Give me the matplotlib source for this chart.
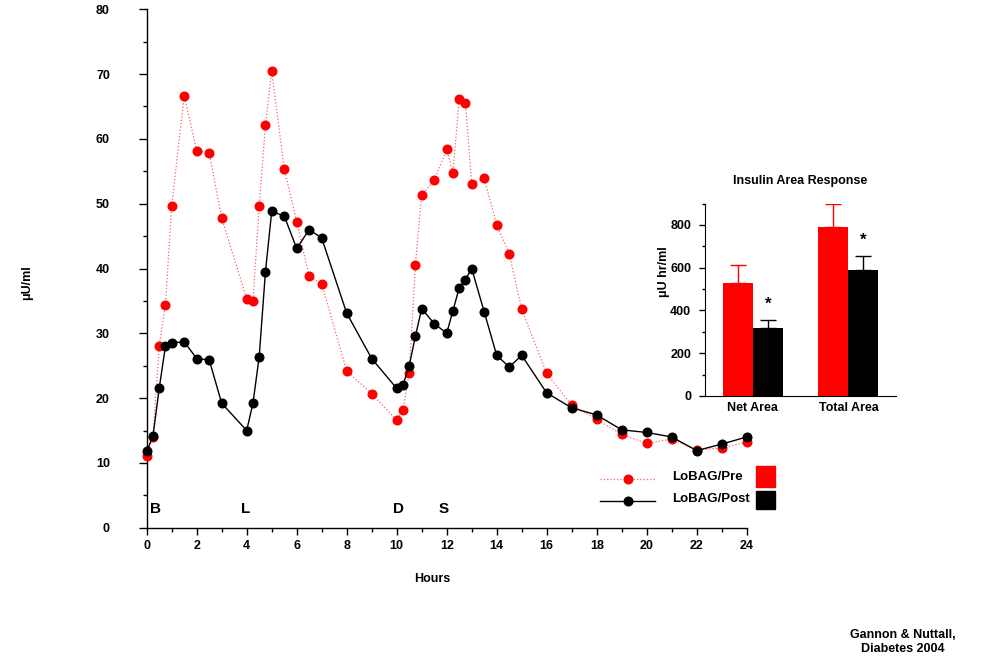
import matplotlib
matplotlib.use("Agg")
import matplotlib.pyplot as plt
from matplotlib.lines import Line2D
from matplotlib.patches import Rectangle
from matplotlib.ticker import MultipleLocator

plt.rcParams['font.family'] = ['Liberation Sans', 'DejaVu Sans']
plt.rcParams['font.weight'] = 'bold'

# ---- data ----
hours = [0, 0.25, 0.5, 0.75, 1, 1.5, 2, 2.5, 3, 4, 4.25, 4.5, 4.75, 5, 5.5, 6, 6.5, 7,
         8, 9, 10, 10.25, 10.5, 10.75, 11, 11.5, 12, 12.25, 12.5, 12.75, 13, 13.5, 14,
         14.5, 15, 16, 17, 18, 19, 20, 21, 22, 23, 24]
pre = [11.0, 14.0, 28.1, 34.4, 49.7, 66.6, 58.2, 57.8, 47.8, 35.3, 35.0, 49.7, 62.1, 70.5,
       55.4, 47.2, 38.8, 37.6, 24.2, 20.7, 16.6, 18.2, 23.9, 40.6, 51.3, 53.6, 58.4, 54.8,
       66.2, 65.5, 53.1, 53.9, 46.7, 42.3, 33.7, 23.8, 18.9, 16.7, 14.4, 13.0, 13.7, 12.0,
       12.3, 13.2]
post = [11.8, 14.1, 21.5, 28.0, 28.5, 28.7, 26.1, 25.9, 19.2, 15.0, 19.2, 26.4, 39.5, 48.8,
        48.1, 43.1, 46.0, 44.7, 33.1, 26.1, 21.5, 22.0, 25.0, 29.6, 33.8, 31.5, 30.0, 33.5,
        37.0, 38.3, 40.0, 33.3, 26.6, 24.8, 26.6, 20.8, 18.5, 17.4, 15.1, 14.7, 14.0, 11.9,
        12.9, 14.0]
meal_labels = ['B', 'L', 'D', 'S']
meal_times = [0.36, 3.97, 10.08, 11.89]

area_categories = ['Net Area', 'Total Area']
area_pre = [528, 790]
area_pre_err = [83, 106]
area_post = [318, 589]
area_post_err = [39, 67]

# ---- figure ----
fig = plt.figure(figsize=(9.93, 6.62), dpi=100)
W, H = 993, 662
MS = 6.2

ax = fig.add_axes([146.7 / W, 1 - 527.7 / H, 600 / W, (527.7 - 9.3) / H])
ax.plot(hours, pre, color='#ff6060', lw=0.9, ls=':', marker='o', ms=MS,
        mfc='red', mec='red', clip_on=False, zorder=3)
ax.plot(hours, post, color='black', lw=1.0, ls='-', marker='o', ms=MS,
        mfc='black', mec='black', clip_on=False, zorder=4)
ax.set_xlim(0, 24)
ax.set_ylim(0, 80)
ax.xaxis.set_major_locator(MultipleLocator(2))
ax.xaxis.set_minor_locator(MultipleLocator(1))
ax.yaxis.set_major_locator(MultipleLocator(10))
ax.yaxis.set_minor_locator(MultipleLocator(5))
for s in ['top', 'right']:
    ax.spines[s].set_visible(False)
for s in ['left', 'bottom']:
    ax.spines[s].set_linewidth(1.0)
ax.tick_params(axis='y', which='major', length=5.5, width=1, pad=21, labelsize=9)
ax.tick_params(axis='y', which='minor', length=3, width=1)
ax.tick_params(axis='x', which='major', length=5, width=1, pad=4, labelsize=9)
ax.tick_params(axis='x', which='minor', length=3, width=1)
for lab in ax.get_xticklabels() + ax.get_yticklabels():
    lab.set_fontweight('bold')
for t, lab in zip(meal_times, meal_labels):
    ax.text(t, 2.85, lab, ha='center', va='center', fontsize=11, fontweight='bold')

fig.text(432 / W, 1 - 579 / H, 'Hours', ha='center', va='center', fontsize=9, fontweight='bold')
fig.text(27 / W, 1 - 283 / H, 'μU/ml', ha='center', va='center', rotation=90,
         fontsize=9, fontweight='bold')
fig.text(903 / W, 1 - 642 / H, 'Gannon & Nuttall,\nDiabetes 2004', ha='center', va='center',
         fontsize=9, fontweight='bold', linespacing=1.15)

# ---- legend (drawn manually) ----
fig.add_artist(Line2D([600 / W, 655 / W], [1 - 479 / H] * 2, color='#ff6060', lw=0.9, ls=':'))
fig.add_artist(Line2D([628 / W], [1 - 479 / H], color='red', marker='o', ms=MS, ls='none'))
fig.add_artist(Line2D([600 / W, 655 / W], [1 - 501 / H] * 2, color='black', lw=1.0))
fig.add_artist(Line2D([628 / W], [1 - 501 / H], color='black', marker='o', ms=MS, ls='none'))
fig.text(672 / W, 1 - 477 / H, 'LoBAG/Pre', ha='left', va='center', fontsize=9.5, fontweight='bold')
fig.text(672 / W, 1 - 499 / H, 'LoBAG/Post', ha='left', va='center', fontsize=9.5, fontweight='bold')
fig.add_artist(Rectangle((756 / W, 1 - 487 / H), 19 / W, 21 / H, color='red', transform=fig.transFigure))
fig.add_artist(Rectangle((756 / W, 1 - 509 / H), 19 / W, 18 / H, color='black', transform=fig.transFigure))

# ---- inset bar chart ----
ax2 = fig.add_axes([705 / W, 1 - 396 / H, 191.2 / W, (396 - 203.6) / H])
xpos = list(range(len(area_categories)))
bw = 0.314
ax2.bar([x - bw / 2 for x in xpos], area_pre, width=bw, color='red', zorder=2)
ax2.bar([x + bw / 2 for x in xpos], area_post, width=bw, color='black', zorder=2)
ax2.errorbar([x - bw / 2 for x in xpos], area_pre, yerr=[[0, 0], area_pre_err], fmt='none',
             ecolor='red', elinewidth=1, capsize=6, capthick=1, zorder=1)
ax2.errorbar([x + bw / 2 for x in xpos], area_post, yerr=[[0, 0], area_post_err], fmt='none',
             ecolor='black', elinewidth=1, capsize=6, capthick=1, zorder=1)
for x, v, e in zip(xpos, area_post, area_post_err):
    ax2.text(x + bw / 2, v + e + 72, '*', ha='center', va='center', fontsize=12, fontweight='bold')
ax2.set_xlim(-0.5, 1.5)
ax2.set_ylim(0, 900)
ax2.set_xticks(xpos)
ax2.set_xticklabels(area_categories, fontsize=9, fontweight='bold')
ax2.yaxis.set_major_locator(MultipleLocator(200))
ax2.yaxis.set_minor_locator(MultipleLocator(100))
for lab in ax2.get_yticklabels():
    lab.set_fontweight('bold')
ax2.tick_params(axis='y', which='major', length=4, width=1, pad=6, labelsize=9)
ax2.tick_params(axis='y', which='minor', length=2.5, width=1)
ax2.tick_params(axis='x', length=0, pad=4)
for s in ['top', 'right']:
    ax2.spines[s].set_visible(False)
ax2.set_title('Insulin Area Response', fontsize=9, fontweight='bold', pad=14)
fig.text(664 / W, 1 - 272 / H, 'μU hr/ml', ha='center', va='center', rotation=90,
         fontsize=9, fontweight='bold')

fig.savefig('out.png', dpi=100)
